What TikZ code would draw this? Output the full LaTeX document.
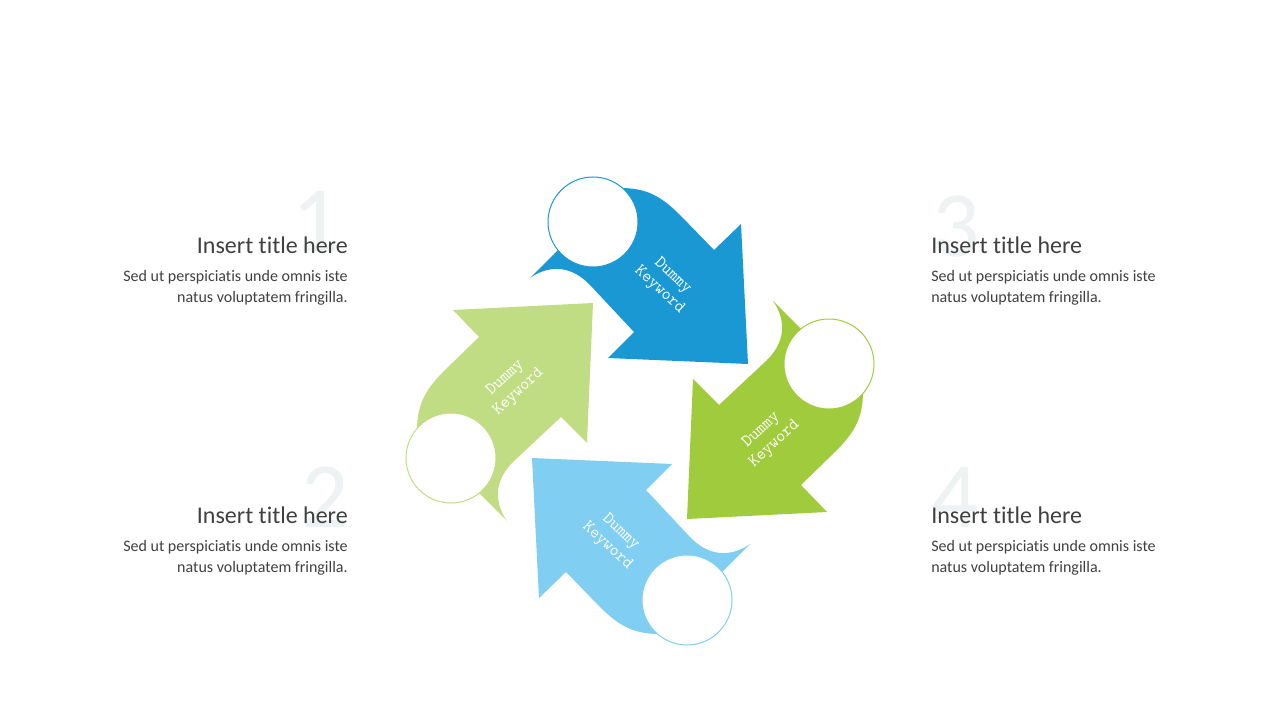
\documentclass[tikz,border=0pt]{standalone}
\usepackage{fontspec}
\setmainfont{Carlito}[Ligatures=NoCommon]
\usetikzlibrary{positioning}
\definecolor{keyblue}{RGB}{26,152,211}
\definecolor{keygreen}{RGB}{160,203,60}
\definecolor{keylightblue}{RGB}{128,206,242}
\definecolor{keylightgreen}{RGB}{193,221,132}
\definecolor{textgray}{RGB}{64,64,64}
\definecolor{numgray}{RGB}{238,242,242}

\begin{document}
\begin{tikzpicture}[x=0.75pt,y=-0.75pt,
  headline/.style={text=textgray,inner sep=0pt,font=\fontsize{18}{21.6}\selectfont},
  blurb/.style={text=textgray,inner sep=0pt,font=\fontsize{12}{15.75}\selectfont},
  bignum/.style={text=numgray,inner sep=0pt,font=\fontsize{70}{84}\selectfont},
  keytext/.style={text=white,align=center,inner sep=0pt,font=\ttfamily\fontsize{13}{14.6}\selectfont},
  holecircle/.style={circle,fill=white,line width=0.75pt,minimum size=67.5pt,inner sep=0pt}]
  \path[use as bounding box,fill=white] (0,0) rectangle (1280,720);

  % four arrows, each one turned a quarter clockwise
  \foreach \col/\ang [count=\i from 0] in {keyblue/-43,keygreen/43,keylightblue/-43,keylightgreen/43}{
    \begin{scope}[shift={(640,411)},rotate=-90*\i]
      \fill[\col] (-110,-133) .. controls (-90,-147) and (-68,-145) .. (-50,-126)
        -- (-6,-79) -- (-32,-53) -- (108,-47) -- (101,-187) -- (74,-161) -- (40,-196)
        .. controls (20,-216) and (5,-223) .. (-20,-223) -- (-47,-189) -- (-82,-161) -- cycle;
      \node[holecircle,draw=\col] (c\i) at (-47,-189) {};
      \node[keytext,rotate=\ang] (k\i) at (26,-128) {Dummy\\Keyword};
    \end{scope}
  }

  % big numbers behind the titles
  \node[bignum,anchor=base] (n1) at (316,252) {1};
  \node[bignum,anchor=base] (n2) at (325,527) {2};
  \node[bignum,anchor=base] (n3) at (956,257) {3};
  \node[bignum,anchor=base] (n4) at (955,527) {4};

  \node[headline,anchor=base east] (t1) at (348,253) {Insert title here};
  \node[blurb,align=right,below=36.75pt of t1.base east,anchor=base east] (d1) {Sed ut perspiciatis unde omnis iste\\natus voluptatem fringilla.};
  \node[headline,anchor=base east] (t2) at (348,523) {Insert title here};
  \node[blurb,align=right,below=36.75pt of t2.base east,anchor=base east] (d2) {Sed ut perspiciatis unde omnis iste\\natus voluptatem fringilla.};
  \node[headline,anchor=base west] (t3) at (931,253) {Insert title here};
  \node[blurb,align=left,below=36.75pt of t3.base west,anchor=base west] (d3) {Sed ut perspiciatis unde omnis iste\\natus voluptatem fringilla.};
  \node[headline,anchor=base west] (t4) at (931,523) {Insert title here};
  \node[blurb,align=left,below=36.75pt of t4.base west,anchor=base west] (d4) {Sed ut perspiciatis unde omnis iste\\natus voluptatem fringilla.};
\end{tikzpicture}
\end{document}
